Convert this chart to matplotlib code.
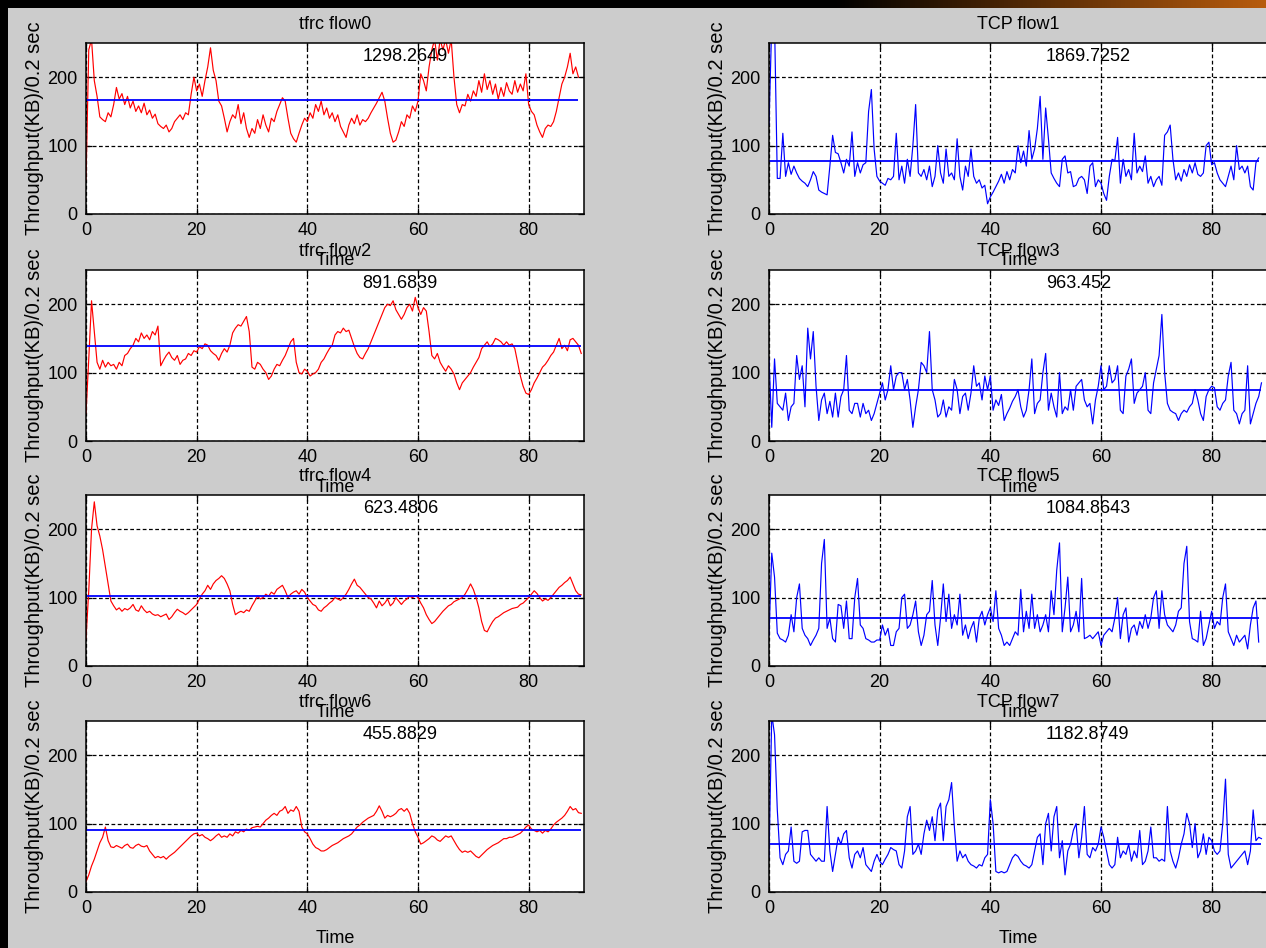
import numpy as np
import matplotlib
matplotlib.use("Agg")
import matplotlib.pyplot as plt
from matplotlib.patches import Rectangle

plt.rcParams['font.family'] = ['Liberation Sans', 'DejaVu Sans']

# samples every 0.5 s
DT = 0.5

titles = ["tfrc flow0", "TCP flow1", "tfrc flow2", "TCP flow3",
          "tfrc flow4", "TCP flow5", "tfrc flow6", "TCP flow7"]
totals = ["1298.2649", "1869.7252", "891.6839", "963.452",
          "623.4806", "1084.8643", "455.8829", "1182.8749"]
mean_levels = [167, 78, 139, 75, 102, 70, 90, 70]

x_ticks = [0, 20, 40, 60, 80]
y_ticks = [0, 100, 200]

tfrc_flow0 = [
    50, 240, 255, 195, 172, 142, 138, 135, 148, 142,     # 0
    160, 185, 168, 176, 160, 172, 155, 165, 150, 158,    # 5
    148, 162, 145, 152, 140, 146, 132, 128, 125, 130,    # 10
    120, 125, 135, 140, 145, 138, 148, 145, 175, 200,    # 15
    180, 190, 172, 195, 215, 243, 210, 195, 165, 158,    # 20
    140, 120, 135, 145, 140, 160, 132, 148, 125, 112,    # 25
    125, 118, 138, 125, 145, 130, 120, 140, 135, 150,    # 30
    160, 170, 165, 140, 118, 110, 105, 118, 130, 140,    # 35
    135, 148, 140, 160, 150, 165, 145, 155, 140, 148,    # 40
    135, 145, 128, 120, 112, 130, 140, 132, 145, 130,    # 45
    138, 135, 140, 148, 155, 162, 170, 178, 165, 140,    # 50
    118, 105, 108, 120, 135, 128, 145, 140, 158, 150,    # 55
    165, 205, 195, 180, 215, 240, 255, 225, 255, 240,    # 60
    255, 235, 255, 200, 160, 148, 160, 158, 175, 165,    # 65
    180, 172, 195, 178, 205, 182, 195, 175, 190, 168,    # 70
    185, 172, 192, 180, 175, 195, 178, 190, 180, 205,    # 75
    160, 150, 145, 130, 120, 112, 125, 130, 128, 135,    # 80
    150, 170, 190, 200, 215, 235, 205, 215, 200,         # 85
]

tcp_flow1 = [
    130, 280, 280, 52, 52, 118, 55, 75, 58, 70,          # 0
    60, 52, 48, 45, 40, 50, 62, 55, 35, 32,              # 5
    30, 28, 70, 115, 90, 88, 75, 60, 80, 70,             # 10
    120, 55, 75, 60, 72, 75, 150, 182, 95, 55,           # 15
    48, 45, 42, 52, 50, 55, 118, 50, 70, 45,             # 20
    80, 55, 100, 160, 60, 55, 65, 50, 70, 40,            # 25
    55, 100, 60, 45, 95, 55, 60, 50, 110, 55,            # 30
    35, 70, 55, 95, 55, 45, 50, 38, 42, 15,              # 35
    25, 32, 40, 48, 58, 45, 62, 50, 65, 60,              # 40
    100, 75, 92, 70, 122, 80, 95, 125, 172, 80,          # 45
    155, 110, 60, 52, 45, 40, 80, 85, 60, 62,            # 50
    40, 42, 52, 55, 50, 30, 70, 75, 40, 50,              # 55
    45, 30, 20, 55, 80, 78, 112, 45, 80, 55,             # 60
    65, 50, 118, 60, 70, 62, 85, 45, 55, 40,             # 65
    50, 55, 42, 115, 120, 130, 80, 50, 60, 48,           # 70
    65, 55, 72, 60, 75, 58, 55, 60, 100, 105,            # 75
    72, 75, 60, 50, 45, 40, 55, 70, 50, 100,             # 80
    65, 70, 60, 70, 40, 35, 75, 82,                      # 85
]

tfrc_flow2 = [
    40, 120, 205, 160, 115, 105, 118, 108, 115, 110,     # 0
    112, 105, 115, 110, 125, 128, 135, 140, 150, 145,    # 5
    158, 150, 155, 148, 160, 155, 168, 110, 118, 125,    # 10
    130, 122, 118, 125, 112, 118, 120, 128, 125, 132,    # 15
    130, 138, 135, 142, 140, 132, 128, 125, 118, 128,    # 20
    135, 130, 140, 158, 165, 170, 168, 175, 182, 160,    # 25
    108, 105, 115, 112, 105, 100, 90, 95, 105, 112,      # 30
    110, 118, 125, 135, 145, 150, 115, 100, 98, 105,     # 35
    102, 95, 98, 100, 105, 115, 120, 128, 135, 140,      # 40
    155, 160, 158, 165, 160, 162, 150, 138, 128, 122,    # 45
    120, 128, 135, 145, 155, 165, 175, 185, 195, 200,    # 50
    198, 205, 192, 185, 178, 185, 195, 200, 190, 210,    # 55
    195, 185, 195, 190, 160, 125, 120, 128, 115, 108,    # 60
    102, 110, 105, 98, 85, 75, 85, 90, 95, 100,          # 65
    108, 115, 122, 135, 140, 145, 138, 142, 150, 148,    # 70
    145, 140, 145, 140, 142, 135, 115, 95, 80, 70,       # 75
    68, 75, 85, 92, 100, 108, 112, 118, 125, 130,        # 80
    140, 150, 135, 140, 132, 148, 150, 145, 140, 128,    # 85
]

tcp_flow3 = [
    120, 20, 120, 55, 50, 45, 70, 30, 50, 55,            # 0
    125, 90, 110, 50, 165, 120, 160, 80, 30, 60,         # 5
    70, 40, 58, 35, 70, 35, 65, 75, 125, 45,             # 10
    40, 55, 55, 35, 55, 40, 45, 30, 40, 55,              # 15
    70, 85, 60, 75, 110, 75, 95, 100, 100, 75,           # 20
    90, 60, 20, 50, 75, 115, 110, 100, 160, 75,          # 25
    60, 35, 40, 60, 35, 50, 45, 90, 75, 40,              # 30
    65, 70, 45, 70, 110, 80, 85, 60, 95, 75,             # 35
    95, 45, 60, 52, 68, 30, 40, 48, 58, 65,              # 40
    75, 50, 35, 45, 75, 120, 40, 55, 60, 100,            # 45
    128, 45, 70, 50, 35, 100, 40, 50, 45, 75,            # 50
    45, 80, 85, 90, 60, 50, 55, 25, 60, 80,              # 55
    110, 75, 80, 110, 85, 90, 110, 45, 40, 95,           # 60
    105, 120, 55, 70, 75, 80, 100, 45, 40, 85,           # 65
    105, 125, 185, 100, 55, 45, 42, 40, 30, 40,          # 70
    45, 42, 50, 55, 75, 60, 40, 30, 65, 75,              # 75
    80, 78, 50, 45, 55, 60, 95, 115, 45, 40,             # 80
    25, 40, 45, 110, 25, 40, 55, 65, 85,                 # 85
]

tfrc_flow4 = [
    40, 110, 200, 240, 205, 190, 170, 145, 120, 95,      # 0
    88, 82, 85, 80, 84, 82, 85, 90, 82, 80,              # 5
    88, 82, 78, 80, 76, 74, 75, 72, 74, 76,              # 10
    68, 72, 78, 83, 80, 78, 75, 78, 82, 86,              # 15
    90, 98, 105, 110, 118, 112, 120, 125, 128, 132,      # 20
    128, 120, 110, 90, 75, 78, 80, 78, 82, 80,           # 25
    88, 95, 102, 98, 100, 105, 102, 108, 105, 112,       # 30
    115, 118, 110, 100, 105, 108, 110, 105, 112, 108,    # 35
    100, 95, 90, 88, 82, 80, 85, 88, 92, 95,             # 40
    100, 98, 96, 100, 105, 112, 120, 127, 118, 115,      # 45
    110, 105, 100, 98, 92, 85, 95, 88, 92, 98,           # 50
    88, 92, 100, 95, 90, 95, 98, 102, 100, 103,          # 55
    100, 92, 85, 75, 68, 62, 65, 70, 75, 80,             # 60
    84, 88, 90, 94, 96, 98, 100, 105, 112, 120,          # 65
    112, 100, 85, 65, 52, 50, 58, 65, 70, 72,            # 70
    75, 78, 80, 82, 84, 85, 86, 90, 92, 96,              # 75
    100, 105, 110, 106, 100, 95, 98, 96, 100, 105,       # 80
    110, 115, 118, 122, 125, 130, 120, 110, 105, 104,    # 85
]

tcp_flow5 = [
    45, 165, 130, 48, 40, 38, 35, 45, 75, 50,            # 0
    100, 120, 55, 45, 40, 30, 38, 45, 55, 150,           # 5
    185, 55, 70, 40, 35, 90, 88, 55, 95, 40,             # 10
    40, 100, 128, 60, 55, 40, 38, 35, 35, 38,            # 15
    38, 60, 45, 55, 30, 30, 50, 55, 100, 105,            # 20
    55, 60, 75, 95, 50, 30, 45, 75, 80, 125,             # 25
    60, 30, 70, 120, 65, 105, 55, 75, 60, 105,           # 30
    45, 60, 40, 55, 65, 35, 70, 80, 60, 75,              # 35
    85, 65, 110, 55, 45, 30, 35, 30, 40, 50,             # 40
    45, 112, 50, 80, 55, 105, 55, 75, 50, 60,            # 45
    75, 50, 110, 75, 140, 180, 50, 85, 130, 50,          # 50
    60, 80, 50, 128, 40, 42, 45, 40, 45, 50,             # 55
    30, 45, 50, 55, 50, 70, 100, 40, 75, 85,             # 60
    35, 55, 60, 45, 65, 55, 75, 55, 70, 100,             # 65
    110, 55, 110, 75, 60, 55, 50, 60, 80, 85,            # 70
    150, 175, 65, 40, 38, 35, 80, 30, 40, 60,            # 75
    80, 55, 65, 60, 100, 120, 50, 40, 30, 45,            # 80
    35, 40, 45, 25, 60, 85, 95, 35,                      # 85
]

tfrc_flow6 = [
    15, 25, 38, 48, 60, 72, 80, 95, 75, 66,              # 0
    65, 68, 66, 64, 68, 70, 65, 64, 68, 70,              # 5
    67, 66, 68, 60, 55, 50, 52, 50, 52, 48,              # 10
    52, 55, 58, 62, 66, 70, 74, 78, 82, 85,              # 15
    86, 82, 84, 80, 78, 75, 78, 82, 85, 80,              # 20
    82, 80, 85, 82, 88, 86, 90, 88, 92, 90,              # 25
    94, 95, 96, 95, 100, 105, 108, 112, 115, 112,        # 30
    118, 120, 125, 115, 120, 118, 125, 118, 95, 88,      # 35
    85, 78, 70, 65, 63, 60, 60, 62, 65, 68,              # 40
    70, 72, 75, 78, 80, 82, 85, 90, 95, 98,              # 45
    102, 105, 108, 110, 112, 118, 126, 118, 108, 112,    # 50
    110, 112, 115, 120, 122, 118, 122, 115, 100, 88,     # 55
    80, 70, 72, 75, 78, 82, 80, 76, 74, 78,              # 60
    82, 80, 82, 75, 68, 62, 58, 60, 58, 60,              # 65
    56, 52, 50, 54, 58, 62, 65, 68, 70, 72,              # 70
    75, 78, 78, 80, 80, 82, 84, 86, 90, 95,              # 75
    98, 92, 90, 88, 90, 86, 90, 88, 92, 98,              # 80
    102, 105, 108, 112, 118, 125, 120, 122, 116, 115,    # 85
]

tcp_flow7 = [
    50, 260, 230, 120, 50, 40, 55, 60, 95, 45,           # 0
    42, 45, 88, 90, 90, 55, 50, 45, 50, 45,              # 5
    45, 125, 60, 30, 55, 80, 70, 85, 90, 50,             # 10
    35, 55, 60, 50, 65, 40, 35, 30, 45, 55,              # 15
    45, 40, 48, 55, 65, 62, 60, 40, 35, 60,              # 20
    110, 125, 55, 60, 70, 55, 85, 105, 90, 110,          # 25
    75, 120, 130, 75, 125, 135, 160, 95, 45, 60,         # 30
    50, 55, 45, 40, 38, 35, 40, 38, 50, 55,              # 35
    135, 100, 30, 28, 30, 28, 30, 40, 50, 55,            # 40
    52, 45, 40, 38, 35, 40, 60, 80, 85, 40,              # 45
    100, 115, 60, 110, 125, 50, 75, 25, 60, 70,          # 50
    90, 100, 50, 80, 125, 55, 50, 65, 60, 70,            # 55
    95, 80, 60, 40, 35, 40, 80, 50, 60, 55,              # 60
    70, 45, 60, 50, 90, 40, 45, 60, 95, 50,              # 65
    50, 45, 48, 45, 125, 60, 45, 35, 50, 70,             # 70
    85, 115, 100, 65, 100, 50, 60, 85, 55, 80,           # 75
    75, 60, 55, 60, 100, 165, 55, 35, 40, 45,            # 80
    50, 55, 60, 40, 60, 120, 75, 80, 78,                 # 85
]

series = [tfrc_flow0, tcp_flow1, tfrc_flow2, tcp_flow3,
          tfrc_flow4, tcp_flow5, tfrc_flow6, tcp_flow7]

W, H = 1266, 948
fig = plt.figure(figsize=(W / 100, H / 100), dpi=100, facecolor='#cccccc')

# slide decoration: black strip on the left, dark bar with orange fade on top
fig.patches.append(Rectangle((0, 0), 8 / W, 1, transform=fig.transFigure,
                             facecolor='black', edgecolor='none', zorder=-1))
bar = fig.add_axes([0, 1 - 8 / H, 1, 8 / H])
fade = np.clip((np.linspace(0, 1, 800) - 0.66) / 0.34, 0, 1)
bar.imshow(np.dstack([fade * 0.72, fade * 0.36, fade * 0.05]),
           aspect='auto', extent=[0, 1, 0, 1])
bar.set_axis_off()

col_left = [86 / W, 769 / W]
row_bottom = [1 - 214 / H, 1 - 441 / H, 1 - 666 / H, 1 - 892 / H]
ax_w, ax_h = 498 / W, 171 / H

for k in range(8):
    row, col = divmod(k, 2)
    ax = fig.add_axes([col_left[col], row_bottom[row], ax_w, ax_h])
    v = np.array(series[k], dtype=float)
    t = np.arange(len(v)) * DT
    ax.plot(t, v, color='#ff0000' if col == 0 else '#0000ff', lw=0.85)
    ax.hlines(mean_levels[k], t[0], t[-1], color='#0000ff', lw=1.3)
    ax.text(50, 230, totals[k], fontsize=13, ha='left', va='center')

    ax.set_xlim(0, 90)
    ax.set_ylim(0, 250)
    ax.set_xticks(x_ticks)
    ax.set_yticks(y_ticks)
    ax.grid(True, color='black', linestyle=(0, (3, 2)), lw=0.9)
    ax.tick_params(direction='in', length=4, width=0.9, labelsize=13,
                   top=True, right=True, pad=6)
    for s in ax.spines.values():
        s.set_linewidth(1.1)
    # MATLAB layout: each title sits on top of the "Time" label above it
    ax.set_title(titles[k], fontsize=13, pad=10)
    ax.set_xlabel('Time', fontsize=13, labelpad=9)
    ax.set_ylabel('Throughput(KB)/0.2 sec', fontsize=14.5)
    ax.yaxis.set_label_coords(-0.084, 0.5)

fig.savefig('out.png', dpi=100, facecolor=fig.get_facecolor())
